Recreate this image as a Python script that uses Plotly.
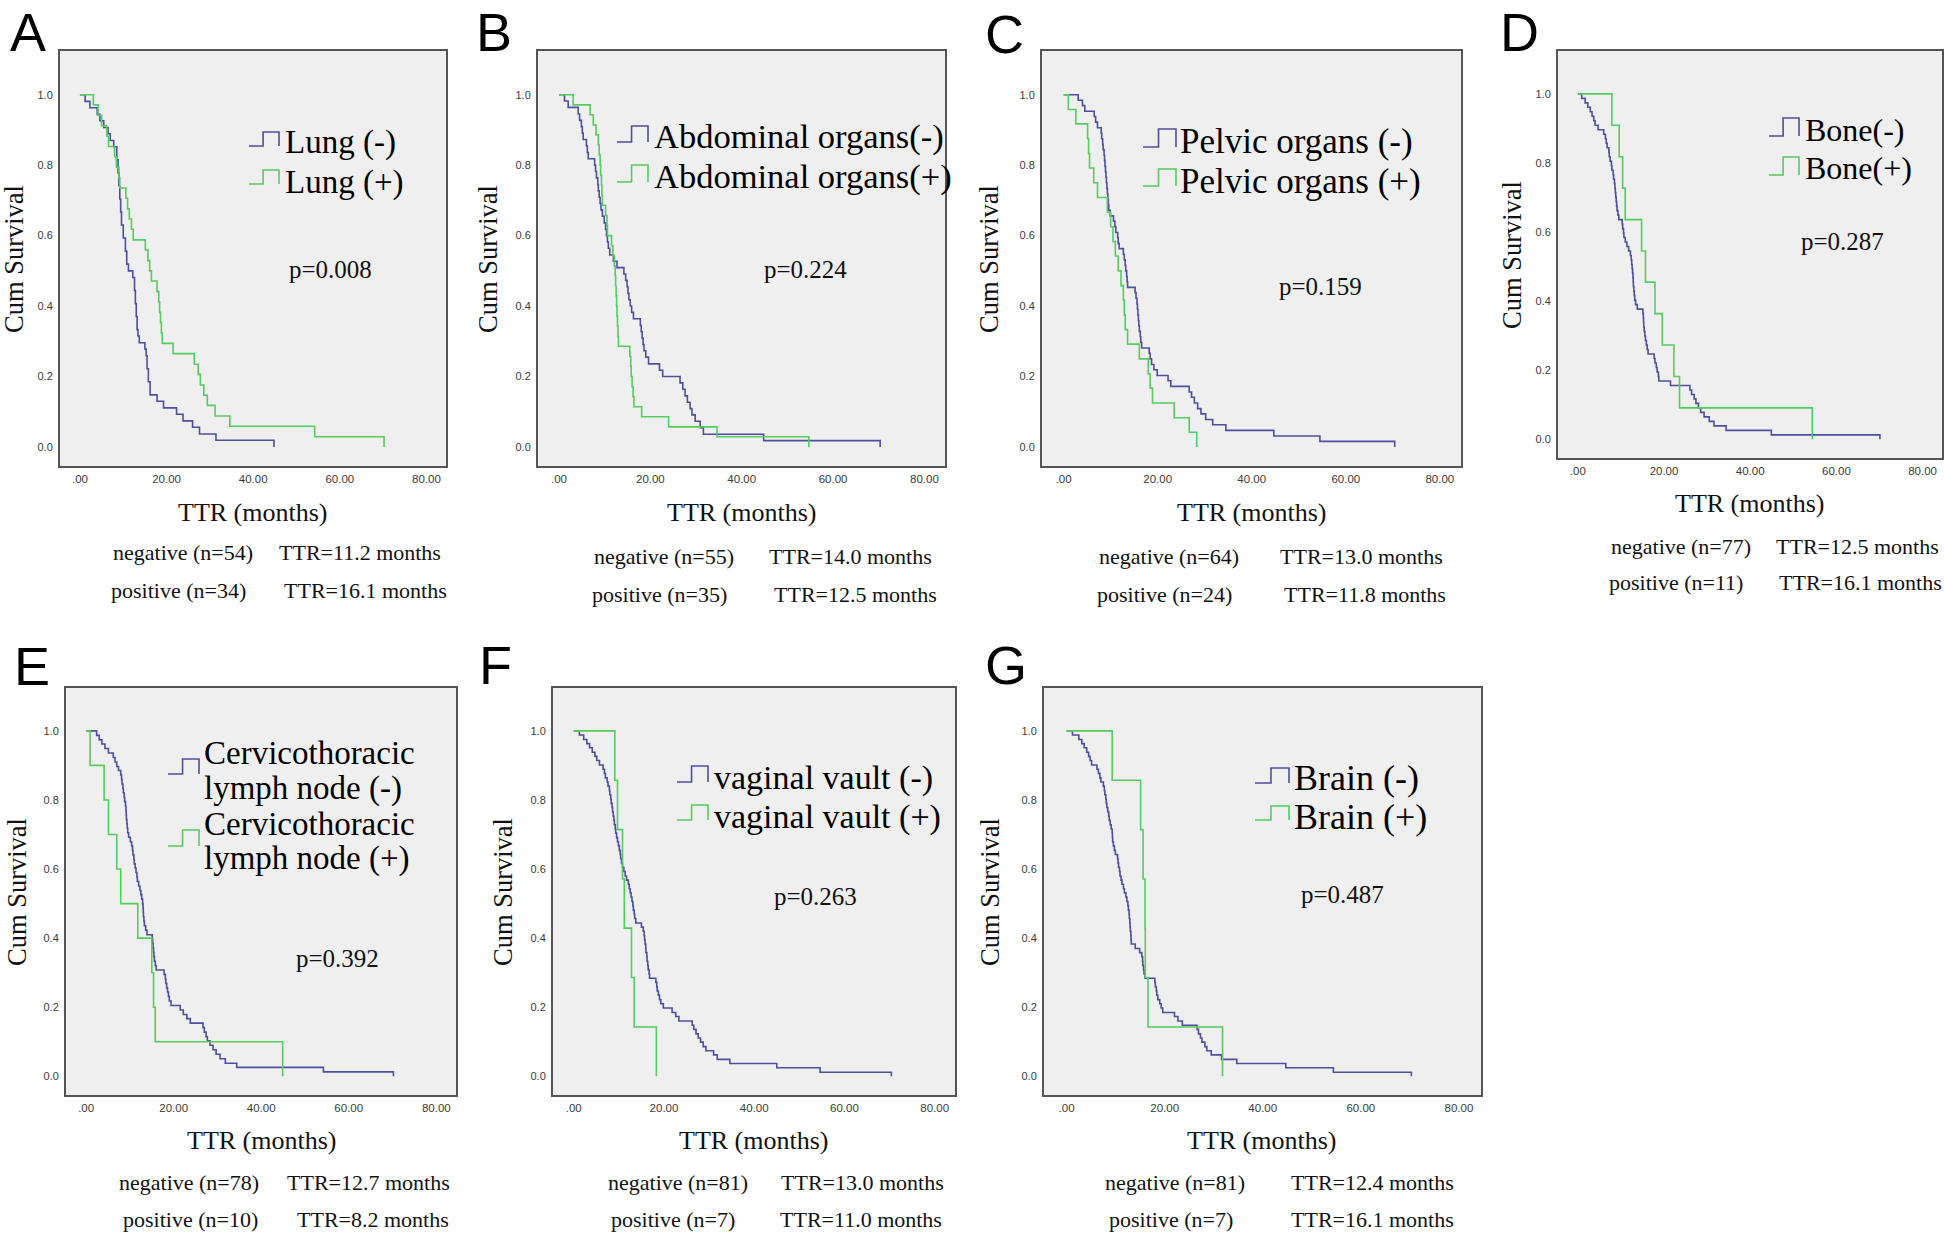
import plotly.graph_objects as go

W, H = 1944, 1234

# ------------------------------------------------------------------ data
panel_letters = ["A", "B", "C", "D", "E", "F", "G"]
legend_neg = [["Lung (-)"], ["Abdominal organs(-)"], ["Pelvic organs (-)"], ["Bone(-)"],
              ["Cervicothoracic", "lymph node (-)"], ["vaginal vault (-)"], ["Brain (-)"]]
legend_pos = [["Lung (+)"], ["Abdominal organs(+)"], ["Pelvic organs (+)"], ["Bone(+)"],
              ["Cervicothoracic", "lymph node (+)"], ["vaginal vault (+)"], ["Brain (+)"]]
p_values = ["p=0.008", "p=0.224", "p=0.159", "p=0.287", "p=0.392", "p=0.263", "p=0.487"]
n_neg = [54, 55, 64, 77, 78, 81, 81]
n_pos = [34, 35, 24, 11, 10, 7, 7]
ttr_neg = [11.2, 14.0, 13.0, 12.5, 12.7, 13.0, 12.4]
ttr_pos = [16.1, 12.5, 11.8, 16.1, 8.2, 11.0, 16.1]
x_tick_vals = [0, 20, 40, 60, 80]
x_tick_text = [".00", "20.00", "40.00", "60.00", "80.00"]
y_tick_vals = [0.0, 0.2, 0.4, 0.6, 0.8, 1.0]
y_tick_text = ["0.0", "0.2", "0.4", "0.6", "0.8", "1.0"]
x_title = "TTR (months)"
y_title = "Cum Survival"

# A  Lung
A_neg_t = [0, 1.2, 2.3, 4.0, 4.6, 5.5, 6.5, 7.0, 7.8, 8.5, 8.8, 9.0, 9.2, 9.4, 9.6, 10.0, 10.5, 10.8,
           11.2, 12.2, 12.6, 12.8, 13.0, 13.2, 13.4, 13.7, 15.0, 15.3, 15.5, 15.8, 16.2, 17.8, 19.3,
           22.3, 23.8, 26.0, 27.6, 31.4, 44.8]
A_neg_s = [1.0, 0.981, 0.963, 0.944, 0.926, 0.907, 0.889, 0.870, 0.852, 0.815, 0.778, 0.741, 0.704,
           0.667, 0.630, 0.593, 0.556, 0.519, 0.500, 0.481, 0.444, 0.407, 0.370, 0.333, 0.315, 0.296,
           0.278, 0.259, 0.222, 0.185, 0.148, 0.130, 0.111, 0.093, 0.074, 0.056, 0.037, 0.019, 0.0]
A_pos_t = [0, 3.1, 4.2, 5.0, 6.2, 6.6, 8.0, 8.4, 9.0, 9.2, 10.6, 11.0, 11.4, 11.9, 12.3, 15.1, 15.7,
           16.1, 16.5, 17.8, 18.2, 18.4, 18.6, 18.8, 19.0, 21.5, 26.4, 27.3, 27.8, 28.6, 29.4, 31.2,
           34.6, 54.2, 70.2]
A_pos_s = [1.0, 0.971, 0.941, 0.912, 0.882, 0.853, 0.824, 0.794, 0.765, 0.735, 0.706, 0.676, 0.647,
           0.618, 0.588, 0.559, 0.529, 0.500, 0.471, 0.441, 0.412, 0.382, 0.353, 0.324, 0.294, 0.265,
           0.235, 0.206, 0.176, 0.147, 0.118, 0.088, 0.059, 0.029, 0.0]

# B  Abdominal organs
B_neg_t = [0, 1.2, 2.0, 4.2, 4.5, 4.9, 5.1, 5.3, 6.0, 6.2, 6.4, 7.8, 8.0, 8.2, 8.5, 8.6, 8.8, 9.0,
           9.2, 9.5, 9.9, 10.2, 10.4, 10.6, 10.8, 11.1, 11.9, 12.7, 14.2, 14.6, 14.9, 15.1, 15.3,
           15.6, 15.9, 16.3, 17.8, 18.0, 18.2, 18.4, 18.6, 19.0, 19.6, 22.0, 22.7, 26.5, 27.1, 27.6,
           28.1, 28.7, 29.1, 29.8, 30.9, 31.6, 44.8, 70.3]
B_neg_s = [1.0, 0.982, 0.964, 0.945, 0.927, 0.909, 0.891, 0.873, 0.855, 0.836, 0.818, 0.800, 0.782,
           0.764, 0.745, 0.727, 0.709, 0.691, 0.673, 0.655, 0.636, 0.618, 0.600, 0.582, 0.564, 0.545,
           0.527, 0.509, 0.491, 0.473, 0.455, 0.436, 0.418, 0.400, 0.382, 0.364, 0.345, 0.327, 0.309,
           0.291, 0.273, 0.255, 0.236, 0.218, 0.200, 0.182, 0.164, 0.145, 0.127, 0.109, 0.091, 0.073,
           0.055, 0.036, 0.018, 0.0]
B_pos_t = [0, 3.1, 6.8, 7.5, 8.1, 8.6, 8.8, 9.0, 9.1, 9.3, 9.4, 9.5, 10.2, 10.5, 10.6, 11.5, 11.8,
           12.1, 12.3, 12.4, 12.5, 12.6, 12.7, 12.8, 12.9, 13.0, 15.5, 15.7, 15.8, 16.0, 16.2, 16.4,
           18.1, 24.0, 34.6, 54.7]
B_pos_s = [1.0, 0.971, 0.943, 0.914, 0.886, 0.857, 0.829, 0.800, 0.771, 0.743, 0.714, 0.686, 0.657,
           0.629, 0.600, 0.571, 0.543, 0.514, 0.486, 0.457, 0.429, 0.400, 0.371, 0.343, 0.314, 0.286,
           0.257, 0.229, 0.200, 0.171, 0.143, 0.114, 0.086, 0.057, 0.029, 0.0]

# C  Pelvic organs
C_neg_t = [0, 3.1, 4.0, 4.5, 6.5, 6.8, 7.2, 8.0, 8.1, 8.3, 8.4, 8.6, 8.7, 8.8, 8.9, 9.0, 9.1, 9.2,
           9.3, 9.4, 9.5, 9.6, 9.9, 10.6, 10.9, 11.1, 11.5, 11.6, 11.8, 12.7, 12.9, 13.1, 13.2, 13.4,
           13.5, 13.6, 15.2, 15.4, 15.6, 15.7, 15.8, 15.9, 16.0, 16.1, 16.3, 16.4, 16.6, 18.2, 18.4,
           18.7, 19.2, 19.9, 22.2, 22.8, 26.7, 27.2, 27.8, 28.5, 29.2, 30.2, 31.7, 34.5, 44.7, 54.5, 70.4]
C_neg_s = [1.0, 0.984, 0.969, 0.953, 0.938, 0.922, 0.906, 0.891, 0.875, 0.859, 0.844, 0.828, 0.813,
           0.797, 0.781, 0.766, 0.750, 0.734, 0.719, 0.703, 0.688, 0.672, 0.656, 0.641, 0.625, 0.609,
           0.594, 0.578, 0.563, 0.547, 0.531, 0.516, 0.500, 0.484, 0.469, 0.453, 0.438, 0.422, 0.406,
           0.391, 0.375, 0.359, 0.344, 0.328, 0.313, 0.297, 0.281, 0.266, 0.250, 0.234, 0.219, 0.203,
           0.188, 0.172, 0.156, 0.141, 0.125, 0.109, 0.094, 0.078, 0.063, 0.047, 0.031, 0.016, 0.0]
C_pos_t = [0, 1.0, 2.6, 5.1, 5.3, 5.5, 6.4, 7.2, 9.3, 10.0, 10.5, 11.0, 11.6, 12.2, 12.7, 12.9, 13.1,
           13.6, 16.1, 18.0, 18.4, 18.9, 23.5, 26.7, 28.3]
C_pos_s = [1.0, 0.958, 0.917, 0.875, 0.833, 0.792, 0.750, 0.708, 0.667, 0.625, 0.583, 0.542, 0.500,
           0.458, 0.417, 0.375, 0.333, 0.292, 0.250, 0.208, 0.167, 0.125, 0.083, 0.042, 0.0]

# D  Bone
D_neg_t = [0, 0.9, 1.7, 2.3, 2.9, 3.3, 3.7, 4.0, 4.7, 6.0, 6.4, 6.6, 6.8, 7.2, 7.3, 7.5, 7.8, 7.9,
           8.2, 8.3, 8.5, 8.6, 8.7, 8.8, 8.9, 9.0, 9.1, 9.3, 9.5, 10.3, 10.4, 10.6, 10.7, 11.0, 11.4,
           11.8, 12.2, 12.4, 12.5, 12.6, 12.7, 12.8, 12.85, 12.9, 13.0, 13.1, 13.2, 13.4, 13.8, 15.1,
           15.2, 15.25, 15.3, 15.4, 15.55, 15.7, 15.9, 16.1, 16.3, 17.7, 17.9, 18.2, 18.4, 18.7, 18.8,
           21.5, 26.0, 26.4, 27.0, 27.4, 28.0, 28.5, 29.3, 30.5, 31.6, 34.4, 44.9, 70.1]
D_neg_s = [1.0, 0.987, 0.974, 0.961, 0.948, 0.935, 0.922, 0.909, 0.896, 0.883, 0.870, 0.857, 0.844,
           0.831, 0.818, 0.805, 0.792, 0.779, 0.766, 0.753, 0.740, 0.727, 0.714, 0.701, 0.688, 0.675,
           0.662, 0.649, 0.636, 0.623, 0.610, 0.597, 0.584, 0.571, 0.558, 0.545, 0.532, 0.519, 0.506,
           0.494, 0.481, 0.468, 0.455, 0.442, 0.429, 0.416, 0.403, 0.390, 0.377, 0.364, 0.351, 0.338,
           0.325, 0.312, 0.299, 0.286, 0.273, 0.260, 0.247, 0.234, 0.221, 0.208, 0.195, 0.182, 0.169,
           0.156, 0.143, 0.130, 0.117, 0.104, 0.091, 0.078, 0.065, 0.052, 0.039, 0.026, 0.013, 0.0]
D_pos_t = [0, 7.9, 9.6, 10.4, 11.0, 14.8, 15.7, 17.9, 19.6, 22.3, 23.6, 54.4]
D_pos_s = [1.0, 0.909, 0.818, 0.727, 0.636, 0.545, 0.455, 0.364, 0.273, 0.182, 0.091, 0.0]

# E  Cervicothoracic lymph node
E_neg_t = [0, 2.4, 3.0, 3.6, 4.3, 5.1, 6.2, 6.6, 7.0, 7.4, 7.9, 8.1, 8.2, 8.4, 8.5, 8.7, 8.8, 9.0,
           9.1, 9.15, 9.2, 9.3, 9.4, 9.5, 9.7, 10.1, 10.4, 10.6, 10.7, 10.9, 11.0, 11.2, 11.4, 11.6,
           11.7, 12.0, 12.3, 12.5, 12.7, 12.9, 13.0, 13.05, 13.1, 13.2, 13.3, 13.6, 13.9, 15.1, 15.2,
           15.3, 15.4, 15.5, 15.6, 15.8, 16.0, 17.8, 18.1, 18.2, 18.4, 18.6, 18.8, 19.0, 19.4, 21.5,
           22.2, 23.0, 23.8, 26.7, 27.0, 27.4, 27.7, 28.3, 29.0, 29.7, 30.6, 31.8, 34.4, 54.2, 70.2]
E_neg_s = [1.0, 0.987, 0.974, 0.962, 0.949, 0.936, 0.923, 0.910, 0.897, 0.885, 0.872, 0.859, 0.846,
           0.833, 0.821, 0.808, 0.795, 0.782, 0.769, 0.756, 0.744, 0.731, 0.718, 0.705, 0.692, 0.679,
           0.667, 0.654, 0.641, 0.628, 0.615, 0.603, 0.590, 0.577, 0.564, 0.551, 0.538, 0.526, 0.513,
           0.500, 0.487, 0.474, 0.462, 0.449, 0.436, 0.423, 0.410, 0.397, 0.385, 0.372, 0.359, 0.346,
           0.333, 0.321, 0.308, 0.295, 0.282, 0.269, 0.256, 0.244, 0.231, 0.218, 0.205, 0.192, 0.179,
           0.167, 0.154, 0.141, 0.128, 0.115, 0.103, 0.090, 0.077, 0.064, 0.051, 0.038, 0.026, 0.013, 0.0]
E_pos_t = [0, 0.9, 4.1, 5.1, 7.0, 7.9, 11.8, 15.0, 15.4, 15.8, 44.9]
E_pos_s = [1.0, 0.9, 0.8, 0.7, 0.6, 0.5, 0.4, 0.3, 0.2, 0.1, 0.0]

# F  vaginal vault
F_neg_t = [0, 1.25, 2.2, 2.9, 3.5, 4.1, 4.7, 5.1, 5.7, 6.5, 6.8, 7.0, 7.4, 7.6, 7.9, 8.0, 8.2, 8.3,
           8.5, 8.6, 8.75, 8.9, 9.0, 9.2, 9.3, 9.5, 9.7, 9.9, 10.1, 10.3, 10.4, 10.6, 10.8, 11.1, 11.4,
           11.7, 12.1, 12.3, 12.5, 12.7, 12.9, 13.1, 13.2, 13.4, 13.5, 13.75, 15.0, 15.4, 15.6, 15.7,
           15.8, 15.95, 16.0, 16.2, 16.25, 16.4, 16.5, 16.7, 16.8, 18.2, 18.4, 18.5, 18.75, 19.0, 19.3,
           19.85, 21.8, 22.6, 23.3, 26.25, 26.6, 27.1, 27.6, 28.1, 28.7, 29.3, 31.0, 31.8, 34.6, 45.0,
           54.6, 70.4]
F_neg_s = [1.0, 0.988, 0.975, 0.963, 0.951, 0.938, 0.926, 0.914, 0.901, 0.889, 0.877, 0.864, 0.852,
           0.840, 0.827, 0.815, 0.802, 0.790, 0.778, 0.765, 0.753, 0.741, 0.728, 0.716, 0.704, 0.691,
           0.679, 0.667, 0.654, 0.642, 0.630, 0.617, 0.605, 0.593, 0.580, 0.568, 0.556, 0.543, 0.531,
           0.519, 0.506, 0.494, 0.481, 0.469, 0.457, 0.444, 0.432, 0.420, 0.407, 0.395, 0.383, 0.370,
           0.358, 0.346, 0.333, 0.321, 0.309, 0.296, 0.284, 0.272, 0.259, 0.247, 0.235, 0.222, 0.210,
           0.198, 0.185, 0.173, 0.160, 0.148, 0.136, 0.123, 0.111, 0.099, 0.086, 0.074, 0.062, 0.049,
           0.037, 0.025, 0.012, 0.0]
F_pos_t = [0, 9.1, 9.7, 10.8, 11.2, 12.8, 13.4, 18.3]
F_pos_s = [1.0, 0.857, 0.714, 0.571, 0.429, 0.286, 0.143, 0.0]

# G  Brain
G_neg_t = [0, 1.2, 2.5, 3.1, 3.6, 4.1, 4.5, 4.8, 5.1, 6.2, 6.5, 6.8, 7.0, 7.5, 7.7, 7.8, 8.0, 8.1,
           8.2, 8.4, 8.6, 8.7, 8.9, 9.1, 9.3, 9.35, 9.4, 9.55, 9.75, 9.95, 10.4, 10.5, 10.6, 10.8,
           10.9, 11.1, 11.3, 11.6, 11.8, 12.1, 12.3, 12.5, 12.6, 12.75, 12.8, 12.9, 12.95, 13.0, 13.1,
           13.15, 13.2, 14.0, 14.9, 15.35, 15.5, 15.55, 15.7, 15.8, 16.0, 18.0, 18.1, 18.3, 18.4,
           18.6, 19.0, 19.3, 19.6, 22.0, 22.7, 23.6, 26.6, 26.9, 27.3, 27.6, 28.2, 28.6, 29.5, 31.6,
           34.7, 44.7, 54.4, 70.3]
G_neg_s = [1.0, 0.988, 0.975, 0.963, 0.951, 0.938, 0.926, 0.914, 0.901, 0.889, 0.877, 0.864, 0.852,
           0.840, 0.827, 0.815, 0.802, 0.790, 0.778, 0.765, 0.753, 0.741, 0.728, 0.716, 0.704, 0.691,
           0.679, 0.667, 0.654, 0.642, 0.630, 0.617, 0.605, 0.593, 0.580, 0.568, 0.556, 0.543, 0.531,
           0.519, 0.506, 0.494, 0.481, 0.469, 0.457, 0.444, 0.432, 0.420, 0.407, 0.395, 0.383, 0.370,
           0.358, 0.346, 0.333, 0.321, 0.309, 0.296, 0.284, 0.272, 0.259, 0.247, 0.235, 0.222, 0.210,
           0.198, 0.185, 0.173, 0.160, 0.148, 0.136, 0.123, 0.111, 0.099, 0.086, 0.074, 0.062, 0.049,
           0.037, 0.025, 0.012, 0.0]
G_pos_t = [0, 9.3, 15.1, 15.6, 16.0, 16.05, 16.6, 31.8]
G_pos_s = [1.0, 0.857, 0.714, 0.571, 0.429, 0.286, 0.143, 0.0]

curves = [
    (A_neg_t, A_neg_s, A_pos_t, A_pos_s),
    (B_neg_t, B_neg_s, B_pos_t, B_pos_s),
    (C_neg_t, C_neg_s, C_pos_t, C_pos_s),
    (D_neg_t, D_neg_s, D_pos_t, D_pos_s),
    (E_neg_t, E_neg_s, E_pos_t, E_pos_s),
    (F_neg_t, F_neg_s, F_pos_t, F_pos_s),
    (G_neg_t, G_neg_s, G_pos_t, G_pos_s),
]

# ------------------------------------------------------------------ layout (pixels)
# letter: (x centre, y, anchor) ; top-row letters anchored at their top edge
panels = [
    dict(frame=(60, 446, 51, 466), letter=(28, 0, "top"), ytitle=(14, 259), xtitle=(253, 513), p=(330, 269),
         icon_x=(249, 279), text_x=283, leg_size=33,
         neg_lines=[143], neg_icon=(146, 132), pos_lines=[182], pos_icon=(184, 170),
         bottom=(111, 277, 109, 282, 552, 590)),
    dict(frame=(538, 945, 51, 466), letter=(494, 0, "top"), ytitle=(488, 259), xtitle=(742, 513), p=(805, 269),
         icon_x=(617, 648), text_x=652, leg_size=34.5,
         neg_lines=[136], neg_icon=(142, 126), pos_lines=[176], pos_icon=(182, 165),
         bottom=(592, 767, 590, 772, 556, 594)),
    dict(frame=(1042, 1461, 51, 466), letter=(1005, 2, "top"), ytitle=(989, 259), xtitle=(1252, 513), p=(1320, 287),
         icon_x=(1143, 1176), text_x=1178, leg_size=35,
         neg_lines=[142], neg_icon=(147, 129), pos_lines=[181], pos_icon=(186, 169),
         bottom=(1097, 1278, 1095, 1282, 556, 594)),
    dict(frame=(1558, 1942, 51, 458), letter=(1519, 0, "top"), ytitle=(1512, 255), xtitle=(1750, 504), p=(1842, 241),
         icon_x=(1769, 1799), text_x=1803, leg_size=32,
         neg_lines=[130], neg_icon=(136, 118), pos_lines=[168], pos_icon=(175, 157),
         bottom=(1609, 1774, 1607, 1777, 546, 582)),
    dict(frame=(66, 456, 688, 1095), letter=(32, 666, "middle"), ytitle=(17, 892), xtitle=(262, 1140), p=(337, 958),
         icon_x=(168, 199), text_x=202, leg_size=33,
         neg_lines=[753, 788], neg_icon=(774, 759), pos_lines=[824, 858], pos_icon=(846, 830),
         bottom=(117, 285, 121, 295, 1182, 1219)),
    dict(frame=(553, 955, 688, 1095), letter=(495, 665, "middle"), ytitle=(503, 892), xtitle=(754, 1140), p=(815, 896),
         icon_x=(677, 708), text_x=712, leg_size=34,
         neg_lines=[778], neg_icon=(782, 766), pos_lines=[817], pos_icon=(820, 805),
         bottom=(606, 779, 609, 778, 1182, 1219)),
    dict(frame=(1044, 1481, 688, 1095), letter=(1006, 665, "middle"), ytitle=(990, 892), xtitle=(1262, 1140), p=(1342, 894),
         icon_x=(1255, 1289), text_x=1292, leg_size=36,
         neg_lines=[778], neg_icon=(783, 768), pos_lines=[817], pos_icon=(820, 806),
         bottom=(1103, 1289, 1107, 1289, 1182, 1219)),
]

X_RANGE = [-4.6, 84.5]
Y_RANGE = [-0.054, 1.124]
BLUE = "#4d4f9e"
GREEN = "#55cc5e"
SERIF = "Liberation Serif, Times New Roman, serif"
SANS = "Liberation Sans, Arial, sans-serif"


def px(x):
    return x / W


def py(y):
    return 1 - y / H


fig = go.Figure()
annotations = []
shapes = []


def ann(text, x, y, size, family=SERIF, xanchor="center", yanchor="middle", angle=0, color="#111111"):
    annotations.append(dict(text=text, x=px(x), y=py(y), xref="paper", yref="paper",
                            xanchor=xanchor, yanchor=yanchor, showarrow=False,
                            textangle=angle, font=dict(family=family, size=size, color=color)))


for i, (nt, ns, pt, ps) in enumerate(curves):
    sfx = "" if i == 0 else str(i + 1)
    P = panels[i]
    fig.add_trace(go.Scatter(x=nt, y=ns, mode="lines", line=dict(color=BLUE, width=1.6, shape="hv"),
                             xaxis="x" + sfx, yaxis="y" + sfx, showlegend=False, hoverinfo="skip"))
    fig.add_trace(go.Scatter(x=pt, y=ps, mode="lines", line=dict(color=GREEN, width=1.6, shape="hv"),
                             xaxis="x" + sfx, yaxis="y" + sfx, showlegend=False, hoverinfo="skip"))
    x0, x1, yt, yb = P["frame"]
    axis_common = dict(showgrid=False, zeroline=False, showline=True, mirror=True,
                       linecolor="#555555", linewidth=2, ticks="", fixedrange=True)
    fig.update_layout(**{
        "xaxis" + sfx: dict(domain=[px(x0), px(x1)], anchor="y" + sfx, range=X_RANGE,
                            tickmode="array", tickvals=x_tick_vals, ticktext=x_tick_text,
                            tickfont=dict(family=SANS, size=11.5, color="#3a3a3a"),
                            ticklabelstandoff=1, **axis_common),
        "yaxis" + sfx: dict(domain=[py(yb), py(yt)], anchor="x" + sfx, range=Y_RANGE,
                            tickmode="array", tickvals=y_tick_vals, ticktext=y_tick_text,
                            tickfont=dict(family=SANS, size=11, color="#3a3a3a"),
                            ticklabelstandoff=3, **axis_common),
    })

    lx, ly, lanchor = P["letter"]
    ann(panel_letters[i], lx, ly, 54, family=SANS, yanchor=lanchor, color="#000000")
    ann(y_title, P["ytitle"][0], P["ytitle"][1], 26.5, angle=-90)
    ann(x_title, P["xtitle"][0], P["xtitle"][1], 26)
    ann(p_values[i], P["p"][0], P["p"][1], 25)
    nl, tl, pl, tpl, yn, yp = P["bottom"]
    ann(f"negative (n={n_neg[i]})", nl, yn, 22, xanchor="left")
    ann(f"TTR={ttr_neg[i]:.1f} months", tl, yn, 22, xanchor="left")
    ann(f"positive (n={n_pos[i]})", pl, yp, 22, xanchor="left")
    ann(f"TTR={ttr_pos[i]:.1f} months", tpl, yp, 22, xanchor="left")

    # legend entries: step-shaped key + label
    ix0, ix1 = P["icon_x"]
    ixm = ix0 + 0.47 * (ix1 - ix0)
    for lines, ys, icon, color in ((legend_neg[i], P["neg_lines"], P["neg_icon"], BLUE),
                                   (legend_pos[i], P["pos_lines"], P["pos_icon"], GREEN)):
        ylo, yhi = icon
        path = (f"M {px(ix0)},{py(ylo)} L {px(ixm)},{py(ylo)} L {px(ixm)},{py(yhi)} "
                f"L {px(ix1)},{py(yhi)} L {px(ix1)},{py(ylo)}")
        shapes.append(dict(type="path", path=path, xref="paper", yref="paper",
                           line=dict(color=color, width=1.6)))
        for line_text, yy in zip(lines, ys):
            ann(line_text, P["text_x"], yy, P["leg_size"], xanchor="left", color="#000000")

fig.update_layout(
    width=W, height=H, autosize=False,
    margin=dict(l=0, r=0, t=0, b=0, pad=0),
    paper_bgcolor="#ffffff", plot_bgcolor="#efefef",
    annotations=annotations, shapes=shapes,
    showlegend=False,
)

fig.write_html("out.html", include_plotlyjs=True, full_html=True,
               config={"displayModeBar": False, "staticPlot": True},
               post_script="document.body.style.margin='0';document.body.style.overflow='hidden';")
